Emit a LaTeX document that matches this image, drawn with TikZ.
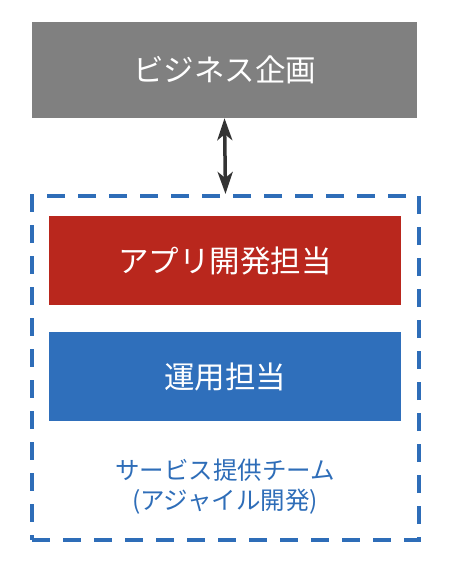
\documentclass[tikz,border=0pt]{standalone}
\usepackage{fontspec}
\setmainfont{Noto Sans CJK JP}
\usetikzlibrary{arrows.meta}
\definecolor{boxgray}{HTML}{808080}
\definecolor{boxred}{HTML}{B9271D}
\definecolor{boxblue}{HTML}{2F6FBB}
\definecolor{teamblue}{HTML}{2E6DB8}
\definecolor{arrowgray}{HTML}{333333}
\tikzset{
  fillbox/.style={draw=none, inner sep=0pt, text=white, font=\fontsize{30.5}{36}\selectfont},
  tip/.style={Stealth[length=22pt,width=15pt,inset=6pt]},
}
\begin{document}
\begin{tikzpicture}[x=1pt,y=-1pt]
\useasboundingbox (0,0) rectangle (456,578);
\node[fillbox, fill=boxgray, minimum width=385pt, minimum height=96pt] (biz) at (224.5,70) {ビジネス企画};
\node[draw=teamblue, line width=4pt, dash pattern=on 18pt off 13pt, minimum width=387pt, minimum height=344pt, inner sep=0pt] (team) at (225.5,368) {};
\node[fillbox, fill=boxred, minimum width=352pt, minimum height=89pt] (app) at (225,260.5) {アプリ開発担当};
\node[fillbox, fill=boxblue, minimum width=352pt, minimum height=89pt] (ops) at (225,376.5) {運用担当};
\node[text=teamblue, align=center, font=\fontsize{24.5}{30}\selectfont, inner sep=0pt] (label) at (225,487) {サービス提供チーム\\(アジャイル開発)};
\draw[arrowgray, line width=3.5pt, {Stealth[length=22pt,width=15pt,inset=6pt]}-{Stealth[length=22pt,width=15pt,inset=6pt]}] (biz.south) -- (team.north);
\end{tikzpicture}
\end{document}
